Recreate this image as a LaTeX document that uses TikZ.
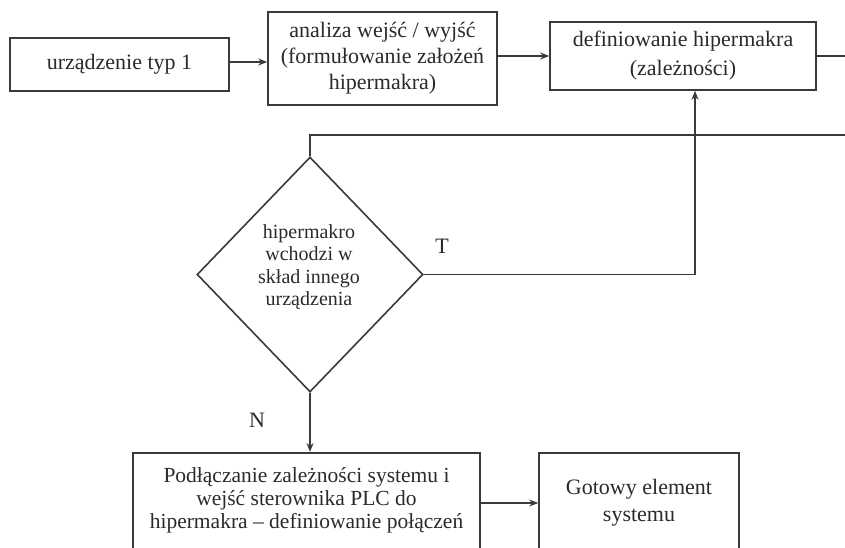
\documentclass[tikz,border=0pt]{standalone}
\usepackage{fontspec}
\setmainfont{Liberation Serif}
\usetikzlibrary{shapes.geometric,arrows.meta}
\definecolor{ink}{HTML}{3A3A3A}
\definecolor{txt}{HTML}{2A2A2A}
\begin{document}
\begin{tikzpicture}[x=1pt,y=-1pt,
  box/.style={draw=ink,line width=1.6pt,rectangle,inner sep=0pt},
  lbl/.style={text=txt,align=center,inner sep=0pt,font=\fontsize{22}{26}\selectfont},
  arr/.style={draw=ink,line width=1.6pt,-{Stealth[length=9pt,width=7pt]}},
  ln/.style={draw=ink,line width=1.6pt}]
\useasboundingbox (0,0) rectangle (845,548);
\clip (0,0) rectangle (845,548);
% boxes
\node[box,lbl,minimum width=219pt,minimum height=53pt] (b1) at (119.5,64.5) {urządzenie typ 1};
\node[box,lbl,minimum width=229pt,minimum height=93pt] (b2) at (382.5,58.5) {analiza wejść / wyjść\\(formułowanie założeń\\hipermakra)};
\node[box,lbl,font=\fontsize{22}{29}\selectfont,minimum width=266pt,minimum height=68pt] (b3) at (683,56) {definiowanie hipermakra\\(zależności)};
% decision
\node[draw=ink,line width=1.6pt,diamond,minimum width=226pt,minimum height=235pt,inner sep=0pt] (d) at (310,274.5) {};
\node[lbl,font=\fontsize{20}{22.5}\selectfont] (dt) at (309,267) {hipermakro\\wchodzi w\\skład innego\\urządzenia};
\node[lbl] (tl) at (442,246) {T};
\node[lbl] (nl) at (257,420) {N};
% bottom boxes (cut by page edge)
\node[box,minimum width=347pt,minimum height=150pt,anchor=north] (b4) at (306.5,452) {};
\node[lbl,font=\fontsize{21.5}{23}\selectfont] (b4t) at (306.5,500) {Podłączanie zależności systemu i\\wejść sterownika PLC do\\hipermakra – definiowanie połączeń};
\node[box,minimum width=200pt,minimum height=150pt,anchor=north] (b5) at (639,452) {};
\node[lbl,font=\fontsize{22}{27}\selectfont] (b5t) at (639,503) {Gotowy element\\systemu};
% free ends
\coordinate (e1) at (845,56);
\coordinate (e2) at (845,135);
% connectors
\draw[arr] ([yshift=2.5pt]b1.east) -- ([yshift=2.5pt]b1.east -| b2.west);
\draw[arr] (b2.east |- b3.west) -- (b3.west);
\draw[ln] (b3.east) -- (b3.east -| e1);
\draw[ln] (d.north) |- (e2);
\draw[arr] (d.east) -| ([xshift=12pt]b3.south);
\draw[arr] (d.south) -- (d.south |- b4.north);
\draw[arr] (b4.east |- b5t) -- (b5.west |- b5t);
\end{tikzpicture}
\end{document}
